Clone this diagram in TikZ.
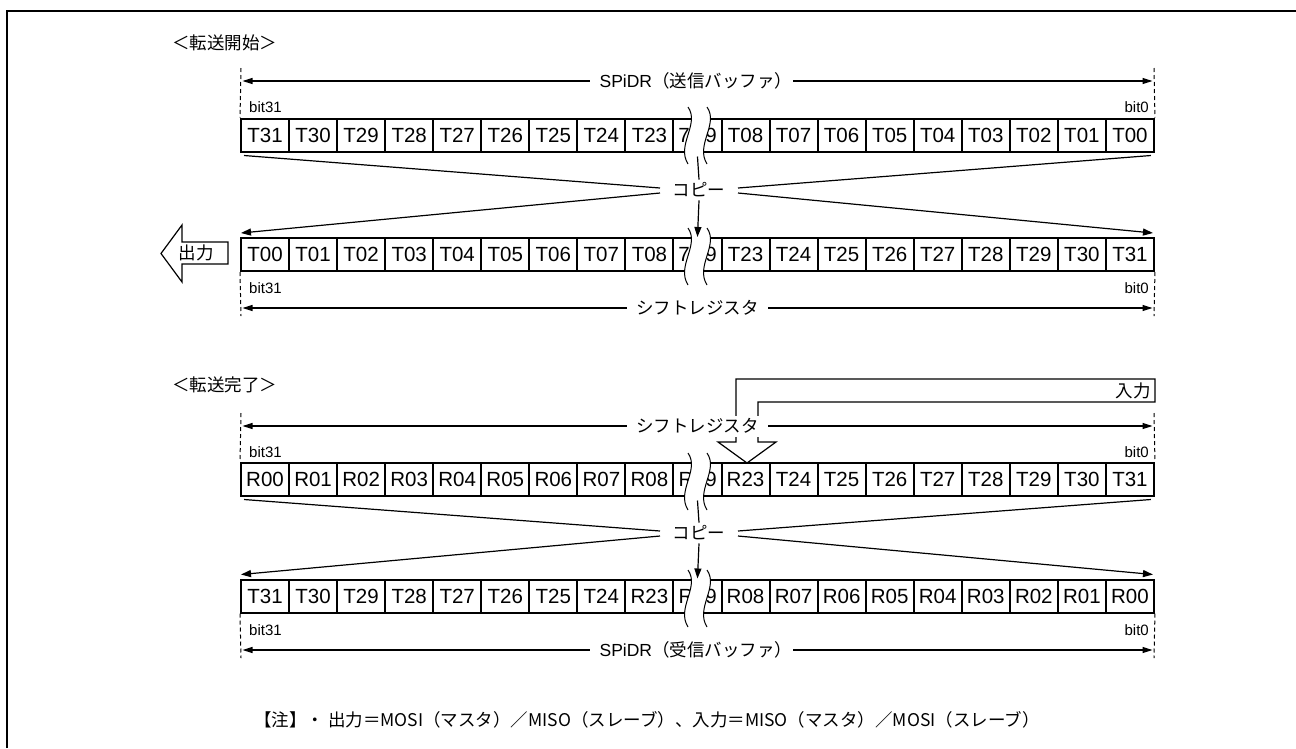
\documentclass[tikz,border=0pt]{standalone}
\usepackage{fontspec}
\setmainfont{Liberation Sans}
\newfontfamily\jpfont{Noto Sans CJK JP}
\usetikzlibrary{arrows.meta,calc}

\tikzset{
    cell/.style={draw, line width=2pt, minimum width=48.05pt, minimum height=33pt,
        inner sep=0pt, font=\fontsize{20.5}{22}\selectfont},
    frag/.style={cell, draw=none},
    bitlbl/.style={inner sep=0pt, font=\fontsize{15}{16}\selectfont},
    jplbl/.style={inner xsep=9pt, inner ysep=3pt, font=\jpfont\fontsize{17.5}{19}\selectfont},
    dimlbl/.style={jplbl, fill=white},
    dimline/.style={line width=1.2pt,
        {Triangle[length=10pt,width=6pt]}-{Triangle[length=10pt,width=6pt]}},
    guide/.style={line width=1pt, dash pattern=on 4pt off 3pt},
    copyline/.style={line width=1.2pt},
    copyarrow/.style={line width=1.2pt, -{Triangle[length=10pt,width=7pt]}},
    brk/.style={line width=1pt},
    hollow/.style={line width=1.2pt, line join=miter},
}

% wavy break across the middle cell, #1 = top of the band
\newcommand{\brkband}[1]{%
    \fill[white] (688,#1) .. controls (700,#1+17) and (676,#1+38) .. (688,#1+57)
        -- (707,#1+57) .. controls (695,#1+38) and (719,#1+17) .. (707,#1) -- cycle;
    \draw[brk] (688,#1) .. controls (700,#1+17) and (676,#1+38) .. (688,#1+57);
    \draw[brk] (707,#1) .. controls (719,#1+17) and (695,#1+38) .. (707,#1+57);
}

\begin{document}
\begin{tikzpicture}[x=1pt, y=-1pt]
    \useasboundingbox (0,0) rectangle (1296,748);
    \draw[line width=2pt] (7,748) -- (7,11) -- (1296,11);

    % transfer start
    \begin{scope}[local bounding box=startBB]
        \node[jplbl, anchor=west, inner xsep=0pt] (start-title) at (172,43) {＜転送開始＞};

        \coordinate (tx-gl) at (241,68);
        \coordinate (tx-gr) at (1154,68);
        \coordinate (tx-dl) at (242.5,81);
        \coordinate (tx-dr) at (1152.5,81);
        \draw[dimline] (tx-dl) -- (tx-dr)
            node[dimlbl, anchor=west, inner xsep=1pt, pos=0.3808] (tx-name)
            {\hspace{9pt}{\rmfamily SPiDR}（送信バッファ）};
        \node[bitlbl, anchor=west] (tx-b31) at (249,107) {bit31};
        \node[bitlbl, anchor=east] (tx-b0) at (1149,107) {bit0};

        \foreach \lbl [count=\i from 0] in {T31,T30,T29,T28,T27,T26,T25,T24,T23,{},
                T08,T07,T06,T05,T04,T03,T02,T01,T00}
            \node[cell] (tx-\i) at ({241+48.05*(\i+0.5)},135) {\lbl};
        \node[frag] (tx-f1) at (684,135) {7};
        \node[frag] (tx-f2) at (711,135) {9};
        \draw[guide] (tx-gl) -- (tx-0.north west);
        \draw[guide] (tx-gr) -- (tx-18.north east);

        \node[jplbl] (copy1) at (699,190) {コピー};

        \foreach \lbl [count=\i from 0] in {T00,T01,T02,T03,T04,T05,T06,T07,T08,{},
                T23,T24,T25,T26,T27,T28,T29,T30,T31}
            \node[cell] (sh-\i) at ({241+48.05*(\i+0.5)},254.5) {\lbl};
        \node[frag] (sh-f1) at (684,254.5) {7};
        \node[frag] (sh-f2) at (711,254.5) {9};

        \brkband{107}
        \brkband{228}

        \draw[copyline] ($(tx-0.south west)+(4,3)$) -- ($(copy1)+(-39,-2)$);
        \draw[copyline] ($(tx-18.south east)+(-4,3)$) -- ($(copy1)+(39,-2)$);
        \draw[copyarrow] ($(copy1)+(-39,3)$) -- ($(sh-0.north west)+(1,-4)$);
        \draw[copyarrow] ($(copy1)+(39,3)$) -- ($(sh-18.north east)+(-2,-4)$);
        \draw[copyline] ($(tx-9.south)+(0,4)$) -- (copy1.north);
        \draw[copyarrow] (copy1.south) -- (sh-9.north);

        % output arrow
        \draw[hollow] (228,242) -- (182,242) -- (182,225) -- (161,253.5)
            -- (182,282) -- (182,264) -- (228,264) -- cycle;
        \node[jplbl, inner xsep=0pt] (out-lbl) at (196,253) {出力};

        \coordinate (sh-gl) at (241,316);
        \coordinate (sh-gr) at (1154,316);
        \coordinate (sh-dl) at (242.5,308);
        \coordinate (sh-dr) at (1152.5,308);
        \draw[guide] (sh-0.south west) -- (sh-gl);
        \draw[guide] (sh-18.south east) -- (sh-gr);
        \node[bitlbl, anchor=west] (sh-b31) at (249,288) {bit31};
        \node[bitlbl, anchor=east] (sh-b0) at (1149,288) {bit0};
        \draw[dimline] (sh-dl) -- (sh-dr)
            node[dimlbl, midway] (sh-name) {シフトレジスタ};
    \end{scope}

    % transfer end
    \begin{scope}[local bounding box=endBB]
        \node[jplbl, anchor=west, inner xsep=0pt] (end-title) at (172,385) {＜転送完了＞};

        % input arrow
        \draw[hollow] (736,442) -- (736,379) -- (1155,379) -- (1155,402) -- (758,402)
            -- (758,442) -- (776,442) -- (747,463) -- (718,442) -- cycle;
        \node[jplbl, anchor=east, inner xsep=0pt] (in-lbl) at (1151,391) {入力};

        \coordinate (shr-gl) at (241,413);
        \coordinate (shr-gr) at (1154,413);
        \coordinate (shr-dl) at (242.5,426);
        \coordinate (shr-dr) at (1152.5,426);
        \draw[dimline] (shr-dl) -- (shr-dr)
            node[dimlbl, midway] (shr-name) {シフトレジスタ};
        \node[bitlbl, anchor=west] (shr-b31) at (249,452) {bit31};
        \node[bitlbl, anchor=east] (shr-b0) at (1149,452) {bit0};

        \foreach \lbl [count=\i from 0] in {R00,R01,R02,R03,R04,R05,R06,R07,R08,{},
                R23,T24,T25,T26,T27,T28,T29,T30,T31}
            \node[cell] (shr-\i) at ({241+48.05*(\i+0.5)},479) {\lbl};
        \node[frag] (shr-f1) at (686,479) {R};
        \node[frag] (shr-f2) at (711,479) {9};
        \draw[guide] (shr-gl) -- (shr-0.north west);
        \draw[guide] (shr-gr) -- (shr-18.north east);

        \node[jplbl] (copy2) at (699,533) {コピー};

        \foreach \lbl [count=\i from 0] in {T31,T30,T29,T28,T27,T26,T25,T24,R23,{},
                R08,R07,R06,R05,R04,R03,R02,R01,R00}
            \node[cell] (rx-\i) at ({241+48.05*(\i+0.5)},596) {\lbl};
        \node[frag] (rx-f1) at (686,596) {R};
        \node[frag] (rx-f2) at (711,596) {9};

        \brkband{453}
        \brkband{570}

        \draw[copyline] ($(shr-0.south west)+(4,3)$) -- ($(copy2)+(-39,-2)$);
        \draw[copyline] ($(shr-18.south east)+(-4,3)$) -- ($(copy2)+(39,-2)$);
        \draw[copyarrow] ($(copy2)+(-39,3)$) -- ($(rx-0.north west)+(1,-4)$);
        \draw[copyarrow] ($(copy2)+(39,3)$) -- ($(rx-18.north east)+(-2,-4)$);
        \draw[copyline] ($(shr-9.south)+(0,4)$) -- (copy2.north);
        \draw[copyarrow] (copy2.south) -- (rx-9.north);

        \coordinate (rx-gl) at (241,658);
        \coordinate (rx-gr) at (1154,658);
        \coordinate (rx-dl) at (242.5,650);
        \coordinate (rx-dr) at (1152.5,650);
        \draw[guide] (rx-0.south west) -- (rx-gl);
        \draw[guide] (rx-18.south east) -- (rx-gr);
        \node[bitlbl, anchor=west] (rx-b31) at (249,630) {bit31};
        \node[bitlbl, anchor=east] (rx-b0) at (1149,630) {bit0};
        \draw[dimline] (rx-dl) -- (rx-dr)
            node[dimlbl, anchor=west, inner xsep=1pt, pos=0.3808] (rx-name)
            {\hspace{9pt}{\rmfamily SPiDR}（受信バッファ）};
    \end{scope}

    \node[jplbl, anchor=west, inner xsep=0pt] (note) at (254,720)
        {【注】・ 出力＝MOSI（マスタ）／MISO（スレーブ）、入力＝MISO（マスタ）／MOSI（スレーブ）};
\end{tikzpicture}
\end{document}
